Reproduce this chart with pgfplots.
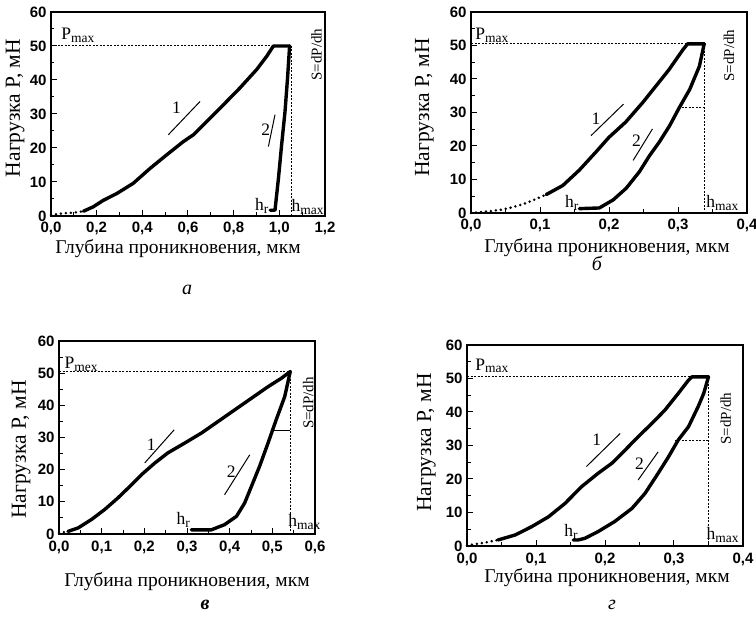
\documentclass[border=0pt]{standalone}
\usepackage{fontspec}
\setmainfont{Liberation Serif}
\setsansfont{Liberation Sans}
\usepackage{pgfplots}
\pgfplotsset{compat=1.18}

\pgfplotsset{
  panel/.style={
    scale only axis, anchor=south west, clip=false,
    xmin=0, ymin=0, ymax=60,
    ytick={0,10,20,30,40,50,60},
    minor x tick num=1, minor y tick num=1,
    tick align=inside, xtick pos=bottom, ytick pos=left,
    axis line style={line width=1.2pt},
    major tick length=6pt, minor tick length=3.5pt,
    every tick/.style={line width=1pt, black},
    tick label style={font=\fontsize{15}{15}\sffamily\bfseries},
    /pgf/number format/assume math mode=true,
    x tick label style={yshift=-3pt, /pgf/number format/.cd, fixed, fixed zerofill, precision=1, use comma},
    y tick label style={xshift=-1pt},
    xlabel style={font=\fontsize{19.5}{19.5}\selectfont},
    ylabel style={font=\fontsize{21.5}{21.5}\selectfont},
    xlabel={Глубина проникновения, мкм},
    ylabel={Нагрузка P, мН},
  },
  curve/.style={black, line width=3.4pt, line join=round, line cap=round},
  dots/.style={black, line width=2.8pt, line cap=round, dash pattern=on 0pt off 5pt},
  ref/.style={black, line width=1pt, dash pattern=on 2pt off 1.5pt},
}
\newcommand{\ann}{\fontsize{17.5}{17.5}\selectfont}
\newcommand{\sub}[1]{\raisebox{-0.35ex}{\fontsize{13.5}{13.5}\selectfont #1}}

\begin{document}
\begin{tikzpicture}[x=1pt,y=1pt]
\path[use as bounding box] (0,0) rectangle (756,634);

% ---------- а ----------
\begin{axis}[panel, at={(51pt,418pt)}, width=274pt, height=204pt,
  xmax=1.2, xtick={0,0.2,0.4,0.6,0.8,1.0,1.2},
  xlabel style={at={(axis description cs:0.5,0)}, anchor=base, yshift=-38pt, xshift=-10pt},
  ylabel style={at={(axis description cs:0,0.5)}, anchor=base, yshift=31pt, xshift=6pt}]
\addplot[ref] coordinates {(0,50) (1.054,50)};
\addplot[ref] coordinates {(1.054,50) (1.054,0)};
\addplot[dots] coordinates {(0,0.3) (0.03,0.6) (0.06,0.8) (0.1,1.0) (0.142,1.4)};
\addplot[curve] coordinates {(0.142,1.4) (0.185,2.7) (0.229,4.6) (0.288,6.6) (0.36,9.6)
  (0.434,14) (0.507,18) (0.58,21.9) (0.624,23.9) (0.682,27.8) (0.755,32.7) (0.828,37.7)
  (0.901,43.1) (0.945,47) (0.974,50) (1.045,50)};
\addplot[curve] coordinates {(1.045,50) (1.036,40.6) (1.025,30.8) (1.01,20.9) (0.996,11)
  (0.981,1.7) (0.96,1.7)};
\draw[line width=1pt] (axis cs:0.514,23.9) -- (axis cs:0.653,33.7);
\draw[line width=1pt] (axis cs:0.952,20.4) -- (axis cs:0.981,29.8);
\node[font=\ann] at (axis cs:0.55,31.8) {1};
\node[font=\ann] at (axis cs:0.941,25.3) {2};
\node[font=\ann, anchor=base west, inner sep=0pt] at (axis cs:0.045,52) {P\sub{max}};
\node[font=\ann, anchor=base west, inner sep=0pt] at (axis cs:0.893,1.7) {h\sub{r}};
\node[font=\ann, anchor=base west, inner sep=0pt] at (axis cs:1.053,1.2) {h\sub{max}};
\node[font=\fontsize{15}{15}\selectfont, rotate=90] at (axis cs:1.163,47.5) {S=dP/dh};
\end{axis}

% ---------- б ----------
\begin{axis}[panel, at={(471pt,421pt)}, width=276pt, height=201pt,
  xmax=0.4, xtick={0,0.1,0.2,0.3,0.4},
  xlabel style={at={(axis description cs:0.5,0)}, anchor=base, yshift=-40pt, xshift=-2pt},
  ylabel style={at={(axis description cs:0,0.5)}, anchor=base, yshift=42pt, xshift=5pt}]
\addplot[ref] coordinates {(0,50.5) (0.338,50.5)};
\addplot[ref] coordinates {(0.338,50.5) (0.338,0)};
\addplot[ref] coordinates {(0.3,31.5) (0.338,31.5)};
\addplot[dots] coordinates {(0,0) (0.015,0.3) (0.03,0.6) (0.045,1) (0.06,1.7) (0.075,2.6)
  (0.09,3.8) (0.109,5.5)};
\addplot[curve] coordinates {(0.109,5.5) (0.133,8.2) (0.157,12.8) (0.181,18.2) (0.2,22.6)
  (0.224,27.1) (0.249,33) (0.268,37.9) (0.287,42.8) (0.307,48.7) (0.314,50.5) (0.338,50.5)};
\addplot[curve] coordinates {(0.338,50.5) (0.331,43.8) (0.317,36.9) (0.302,31.5) (0.288,26.1)
  (0.273,21.2) (0.259,17.2) (0.244,12.3) (0.225,7.4) (0.206,3.9) (0.186,1.5) (0.157,1.3)};
\draw[line width=1pt] (axis cs:0.174,23.1) -- (axis cs:0.221,32.5);
\draw[line width=1pt] (axis cs:0.235,15.7) -- (axis cs:0.263,25.1);
\node[font=\ann] at (axis cs:0.181,28) {1};
\node[font=\ann] at (axis cs:0.24,21.7) {2};
\node[font=\ann, anchor=base west, inner sep=0pt] at (axis cs:0.006,51.8) {P\sub{max}};
\node[font=\ann, anchor=base west, inner sep=0pt] at (axis cs:0.136,1.5) {h\sub{r}};
\node[font=\ann, anchor=base west, inner sep=0pt] at (axis cs:0.341,1.5) {h\sub{max}};
\node[font=\fontsize{15}{15}\selectfont, rotate=90] at (axis cs:0.374,47) {S=dP/dh};
\end{axis}

% ---------- в ----------
\begin{axis}[panel, at={(59pt,100pt)}, width=256pt, height=193pt,
  xmax=0.6, xtick={0,0.1,0.2,0.3,0.4,0.5,0.6},
  xlabel style={at={(axis description cs:0.5,0)}, anchor=base, yshift=-53pt},
  ylabel style={at={(axis description cs:0,0.5)}, anchor=base, yshift=33pt, xshift=-12pt}]
\addplot[ref] coordinates {(0,50.5) (0.542,50.5)};
\addplot[ref] coordinates {(0.542,50.5) (0.542,0)};
\addplot[dots] coordinates {(0,0.3) (0.021,0.8)};
\addplot[curve] coordinates {(0.021,0.8) (0.045,1.9) (0.076,4.5) (0.107,7.6) (0.138,11.2)
  (0.17,15.3) (0.193,18.4) (0.224,22) (0.255,25.2) (0.295,28.3) (0.334,31.4) (0.373,35)
  (0.412,38.6) (0.451,42.2) (0.49,45.8) (0.521,48.4) (0.542,50.5)};
\addplot[curve] coordinates {(0.542,50.5) (0.529,42.7) (0.509,35.5) (0.49,28.3) (0.47,21)
  (0.451,14.8) (0.435,9.6) (0.416,5.5) (0.388,2.9) (0.357,1.3) (0.31,1.3)};
\draw[line width=1pt] (axis cs:0.502,32.2) -- (axis cs:0.542,32.2);
\draw[line width=1pt] (axis cs:0.502,32.2) -- (axis cs:0.51,36);
\draw[line width=1pt] (axis cs:0.201,22.1) -- (axis cs:0.27,32.4);
\draw[line width=1pt] (axis cs:0.388,12.2) -- (axis cs:0.447,24.6);
\node[font=\ann] at (axis cs:0.216,27.7) {1};
\node[font=\ann] at (axis cs:0.404,19.5) {2};
\node[font=\ann, anchor=base west, inner sep=0pt] at (axis cs:0.013,51.5) {P\sub{mex}};
\node[font=\ann, anchor=base west, inner sep=0pt] at (axis cs:0.275,2.9) {h\sub{r}};
\node[font=\ann, anchor=base west, inner sep=0pt] at (axis cs:0.537,2.4) {h\sub{max}};
\node[font=\fontsize{15}{15}\selectfont, rotate=90] at (axis cs:0.584,40.7) {S=dP/dh};
\end{axis}

% ---------- г ----------
\begin{axis}[panel, at={(467pt,88pt)}, width=276pt, height=201pt,
  xmax=0.4, xtick={0,0.1,0.2,0.3,0.4},
  xlabel style={at={(axis description cs:0.5,0)}, anchor=base, yshift=-37pt, xshift=2pt},
  ylabel style={at={(axis description cs:0,0.5)}, anchor=base, yshift=36pt, xshift=3pt}]
\addplot[ref] coordinates {(0,50.5) (0.35,50.5)};
\addplot[ref] coordinates {(0.35,50.5) (0.35,0)};
\addplot[ref] coordinates {(0.301,31.6) (0.35,31.6)};
\addplot[dots] coordinates {(0,0.2) (0.02,0.8) (0.045,1.8)};
\addplot[curve] coordinates {(0.045,1.8) (0.07,3.3) (0.094,5.8) (0.118,8.7) (0.142,12.7)
  (0.166,17.7) (0.19,21.7) (0.21,24.7) (0.229,28.6) (0.248,32.6) (0.268,36.6) (0.287,40.6)
  (0.306,45.5) (0.321,49.5) (0.326,50.5) (0.35,50.5)};
\addplot[curve] coordinates {(0.35,50.5) (0.343,45.5) (0.335,41.6) (0.321,35.6) (0.306,31.6)
  (0.292,26.6) (0.277,21.7) (0.258,15.7) (0.239,11.2) (0.214,7.3) (0.19,4.3) (0.171,2.3)
  (0.161,1.8) (0.154,1.8)};
\draw[line width=1pt] (axis cs:0.173,23.7) -- (axis cs:0.222,33.6);
\draw[line width=1pt] (axis cs:0.248,19.7) -- (axis cs:0.277,28.1);
\node[font=\ann] at (axis cs:0.188,31.6) {1};
\node[font=\ann] at (axis cs:0.25,24.7) {2};
\node[font=\ann, anchor=base west, inner sep=0pt] at (axis cs:0.012,52.5) {P\sub{max}};
\node[font=\ann, anchor=base west, inner sep=0pt] at (axis cs:0.141,2.8) {h\sub{r}};
\node[font=\ann, anchor=base west, inner sep=0pt] at (axis cs:0.347,1.8) {h\sub{max}};
\node[font=\fontsize{15}{15}\selectfont, rotate=90] at (axis cs:0.375,38) {S=dP/dh};
\end{axis}

% panel letters
\node[font=\fontsize{20}{20}\selectfont\itshape] at (187pt,344pt) {а};
\node[font=\fontsize{20}{20}\selectfont\itshape] at (597pt,371pt) {б};
\node[font=\fontsize{20}{20}\selectfont\itshape\bfseries] at (205pt,29pt) {в};
\node[font=\fontsize{20}{20}\selectfont\itshape] at (612pt,29pt) {г};
\end{tikzpicture}
\end{document}
